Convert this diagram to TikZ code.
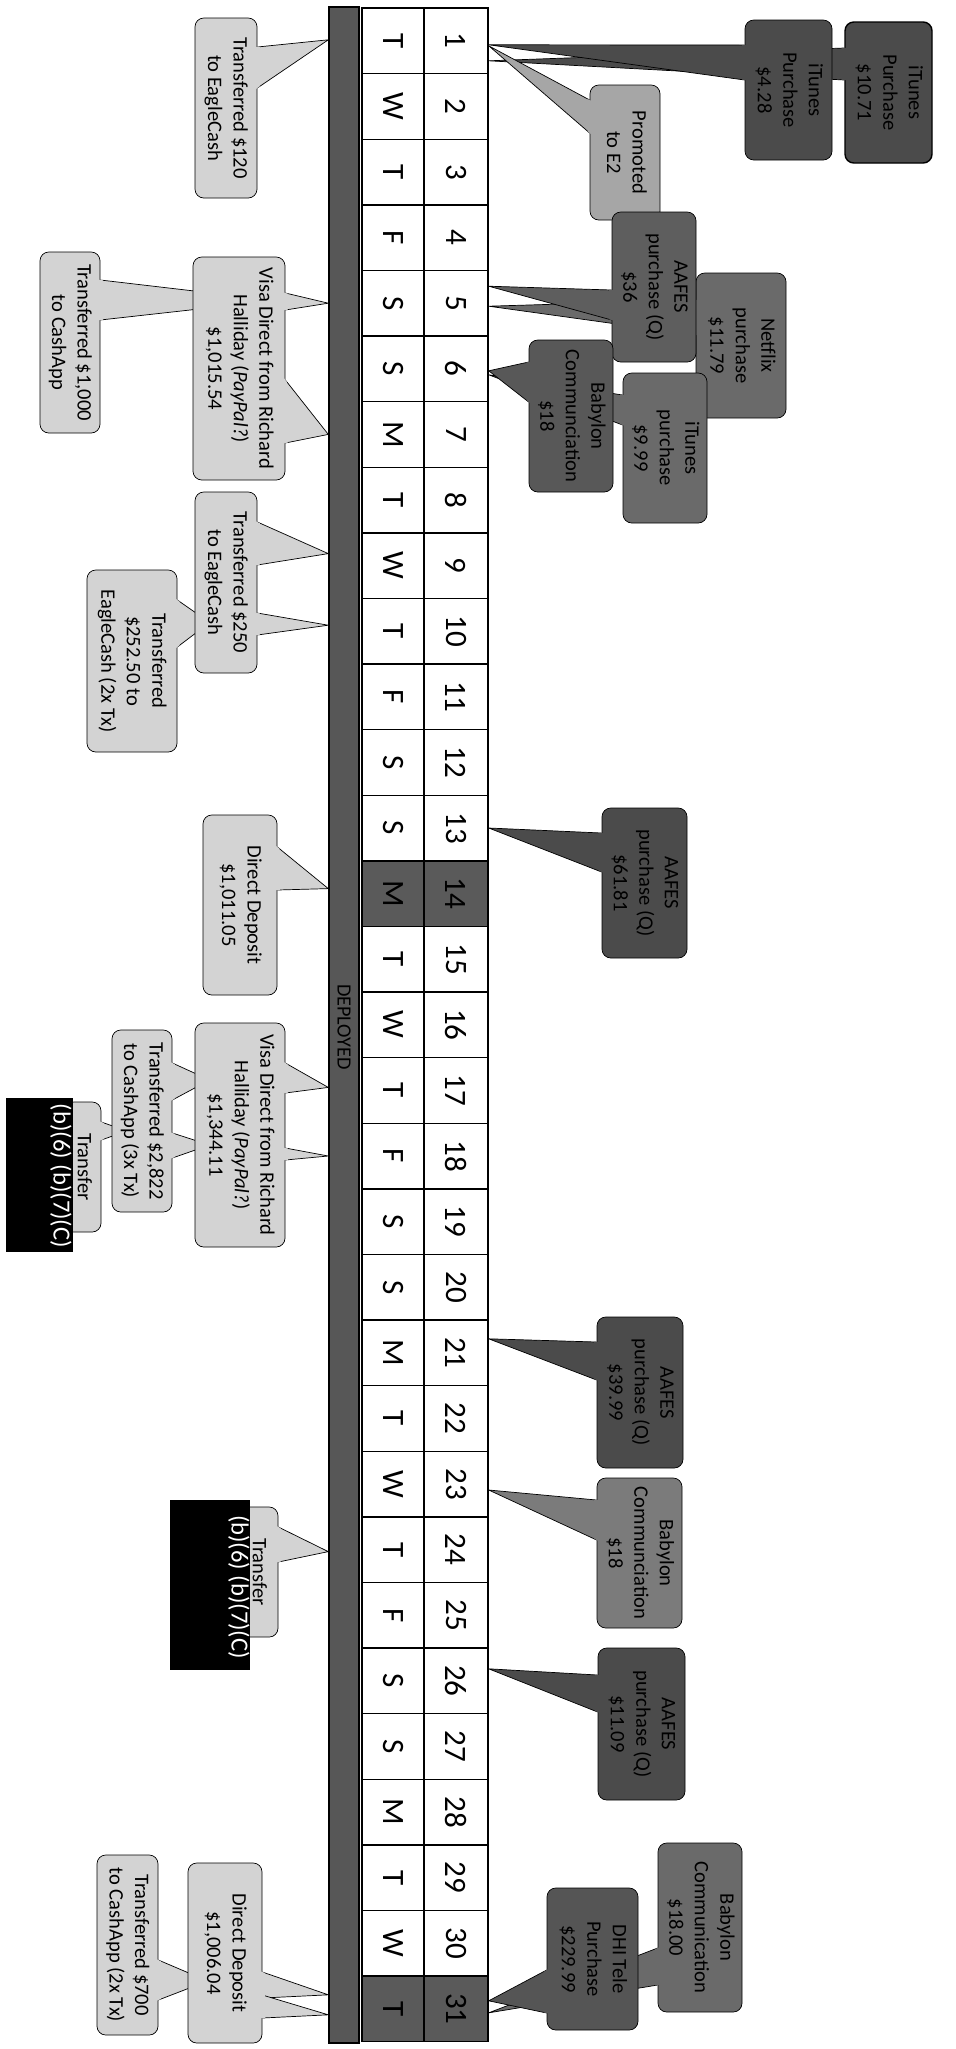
\documentclass[tikz,border=0pt]{standalone}
\usepackage{fontspec}
\setmainfont{Carlito}
\usepackage{graphicx}
\usetikzlibrary{calc,positioning}
\pgfdeclarelayer{background}
\pgfsetlayers{background,main}
\definecolor{callgrey}{HTML}{D3D3D3}
\definecolor{dkgrey}{HTML}{4B4B4B}
\definecolor{promgrey}{HTML}{A6A6A6}
\definecolor{midgrey}{HTML}{5E5E5E}
\definecolor{netgrey}{HTML}{6A6A6A}
\definecolor{babgrey}{HTML}{585858}
\definecolor{lbabgrey}{HTML}{7B7B7B}
\definecolor{dhigrey}{HTML}{555555}
\definecolor{bargrey}{HTML}{575757}
\definecolor{rowgrey}{HTML}{5A5A5A}
\newcommand\callfont{\fontsize{11.7}{14.5}\selectfont}
\newcommand\dayfont{\fontsize{17.7}{20}\selectfont}
\newcommand\redfont{\fontsize{14}{16}\selectfont}
\newcommand\rt[1]{\rotatebox{-90}{\begin{tabular}{@{}c@{}}#1\end{tabular}}}
% tail of a callout: colour, base a, base b, tip
\newcommand\calltail[4]{%
  \coordinate (ta) at (#2);
  \coordinate (tb) at (#3);
  \coordinate (tp) at (#4);
  \begin{pgfonlayer}{background}
    \filldraw[fill=#1] (ta) -- (tp) -- (tb);
  \end{pgfonlayer}
  \fill[#1] ($(ta)!-1.5pt!(tp)$) -- ($(ta)!1.5pt!(tp)$) -- ($(tb)!1.5pt!(tp)$) -- ($(tb)!-1.5pt!(tp)$) -- cycle;
}
\tikzset{
  bx/.style 2 args={minimum width=#1*0.02cm, minimum height=#2*0.02cm},
  lcall/.style={draw, fill=callgrey, rounded corners=5pt, inner sep=0pt, font=\callfont},
  rcall/.style={draw, fill=#1, rounded corners=5pt, inner sep=0pt, font=\callfont},
  daycell/.style={draw, inner sep=0pt, minimum height=65.6*0.02cm, font=\dayfont},
  redact/.style={fill=black, inner sep=0pt}
}
\begin{document}
\begin{tikzpicture}[x=0.02cm, y=-0.02cm, line width=0.8pt]
\useasboundingbox (0,0) rectangle (956,2049);

% deployed bar and days
\node[draw, fill=bargrey, inner sep=0pt, bx={30}{2036}] (bar) at (344,1025) {};
\node[font=\fontsize{11.5}{12}\selectfont] (dep) at (344,1027) {\rotatebox{-90}{DEPLOYED}};
\foreach \d [count=\i] in {T,W,T,F,S,S,M,T,W,T,F,S,S,M,T,W,T,F,S,S,M,T,W,T,F,S,S,M,T,W,T}{
  \pgfmathsetmacro\yc{8+(\i-0.5)*65.6}
  \def\rowfill{white}
  \ifnum\i=14 \def\rowfill{rowgrey}\fi
  \ifnum\i=31 \def\rowfill{rowgrey}\fi
  \node[daycell, fill=\rowfill, minimum width=62*0.02cm] (l\i) at (393,\yc) {\rotatebox{-90}{\d}};
  \node[daycell, fill=\rowfill, minimum width=64*0.02cm] (n\i) at (456,\yc) {\rotatebox{-90}{\i}};
}

% purchases
\node[rcall=dkgrey, bx={87}{141}] (it1071) at (888.5,92.5) {\rt{iTunes\\Purchase\\\$10.71}};
\calltail{dkgrey}{it1071.west |- 0,48}{it1071.west |- 0,80}{$(n1.east)+(0,20)$}
\node[rcall=dkgrey, bx={87}{140}] (it428) at (788.5,90) {\rt{iTunes\\Purchase\\\$4.28}};
\calltail{dkgrey}{it428.west |- 0,45}{it428.west |- 0,80}{$(n1.east)+(0,4)$}
\node[rcall=promgrey, bx={70}{135}] (prom) at (625,152.5) {\rt{Promoted\\to E2}};
\calltail{promgrey}{prom.west |- 0,100}{prom.west |- 0,133}{$(n1.east)+(0,5)$}
\node[rcall=netgrey, bx={90}{145}] (netf) at (741,345.5) {\rt{Netflix\\purchase\\\$11.79}};
\calltail{netgrey}{netf.west |- 0,300}{netf.west |- 0,335}{$(n5.east)+(0,3)$}
\node[rcall=midgrey, bx={84}{150}] (aaf36) at (654,287) {\rt{AAFES\\purchase (Q)\\\$36}};
\calltail{midgrey}{aaf36.west |- 0,290}{aaf36.west |- 0,320}{$(n5.east)+(0,-17)$}
\node[rcall=netgrey, bx={84}{150}] (it999) at (665,448) {\rt{iTunes\\purchase\\\$9.99}};
\calltail{netgrey}{it999.west |- 0,395}{it999.west |- 0,425}{$(n6.east)+(0,6)$}
\node[rcall=babgrey, bx={84}{152}] (bab6) at (571,416) {\rt{Babylon\\Communciation\\\$18}};
\calltail{babgrey}{bab6.west |- 0,362}{bab6.west |- 0,402}{$(n6.east)+(0,2)$}
\node[rcall=dkgrey, bx={85}{150}] (aaf61) at (644.5,883) {\rt{AAFES\\purchase (Q)\\\$61.81}};
\calltail{dkgrey}{aaf61.west |- 0,833}{aaf61.west |- 0,872}{n13.east}
\node[rcall=dkgrey, bx={86}{151}] (aaf39) at (640,1392.5) {\rt{AAFES\\purchase (Q)\\\$39.99}};
\calltail{dkgrey}{aaf39.west |- 0,1342}{aaf39.west |- 0,1380}{$(n21.east)+(0,-14)$}
\node[rcall=lbabgrey, bx={85}{150}] (bab23) at (639.5,1553) {\rt{Babylon\\Communciation\\\$18}};
\calltail{lbabgrey}{bab23.west |- 0,1500}{bab23.west |- 0,1540}{$(n23.east)+(0,6)$}
\node[rcall=dkgrey, bx={87}{152}] (aaf11) at (641.5,1724) {\rt{AAFES\\purchase (Q)\\\$11.09}};
\calltail{dkgrey}{aaf11.west |- 0,1675}{aaf11.west |- 0,1712}{$(n26.east)+(0,-12)$}
\node[rcall=netgrey, bx={84}{169}] (bab30) at (700,1927.5) {\rt{Babylon\\Communication\\\$18.00}};
\calltail{netgrey}{bab30.west |- 0,1948}{bab30.west |- 0,1985}{$(n31.east)+(0,4)$}
\node[rcall=dhigrey, bx={91}{142}] (dhi) at (592.5,1959) {\rt{DHI Tele\\Purchase\\\$229.99}};
\calltail{dhigrey}{dhi.west |- 0,1970}{dhi.west |- 0,2013}{$(n31.east)+(0,-8)$}

% transfers and deposits
\node[lcall, bx={62}{180}] (tx120) at (226,108) {\rt{Transferred \$120\\to EagleCash}};
\calltail{callgrey}{tx120.east |- 0,47}{tx120.east |- 0,88}{$(bar.west |- l1)+(0,-1)$}
\node[lcall, bx={92}{223}] (visa1) at (239,368.5) {\rt{Visa Direct from Richard\\Halliday (\textit{PayPal?})\\\$1,015.54}};
\calltail{callgrey}{visa1.east |- 0,293}{visa1.east |- 0,310}{bar.west |- l5}
\calltail{callgrey}{visa1.east |- 0,380}{visa1.east |- 0,443}{bar.west |- l7}
\node[lcall, bx={60}{181}] (txk) at (70,342.5) {\rt{Transferred \$1,000\\to CashApp}};
\calltail{callgrey}{txk.east |- 0,280}{txk.east |- 0,320}{$(visa1.east)+(-10,-68)$}
\node[lcall, bx={62}{181}] (tx250) at (226,582.5) {\rt{Transferred \$250\\to EagleCash}};
\calltail{callgrey}{tx250.east |- 0,522}{tx250.east |- 0,565}{$(bar.west |- l9)+(0,-12)$}
\calltail{callgrey}{tx250.east |- 0,613}{tx250.east |- 0,635}{$(bar.west |- l10)+(0,-6)$}
\node[lcall, bx={90}{182}] (tx252) at (132,661) {\rt{Transferred\\\$252.50 to\\EagleCash (2x Tx)}};
\calltail{callgrey}{tx252.east |- 0,600}{tx252.east |- 0,647}{$(tx250.west)+(15,40)$}
\node[lcall, bx={74}{180}] (dd1) at (240,905) {\rt{Direct Deposit\\\$1,011.05}};
\calltail{callgrey}{dd1.east |- 0,847}{dd1.east |- 0,890}{$(bar.west |- l14)+(0,-5)$}
\node[lcall, bx={90}{224}] (visa2) at (240,1135) {\rt{Visa Direct from Richard\\Halliday (\textit{PayPal?})\\\$1,344.11}};
\calltail{callgrey}{visa2.east |- 0,1063}{visa2.east |- 0,1093}{$(bar.west |- l17)+(0,-3)$}
\calltail{callgrey}{visa2.east |- 0,1148}{visa2.east |- 0,1160}{bar.west |- l18}
\node[lcall, bx={60}{182}] (tx2822) at (142,1121) {\rt{Transferred \$2,822\\to CashApp (3x Tx)}};
\calltail{callgrey}{tx2822.east |- 0,1063}{tx2822.east |- 0,1100}{$(visa2.west)+(15,-55)$}
\calltail{callgrey}{tx2822.east |- 0,1133}{tx2822.east |- 0,1158}{$(visa2.west)+(15,10)$}
\node[lcall, bx={36}{130}] (trf1) at (83,1167) {\rt{Transfer}};
\calltail{callgrey}{trf1.east |- 0,1122}{trf1.east |- 0,1140}{$(tx2822.west)+(15,10)$}
\node[lcall, bx={40}{130}] (trf2) at (258,1572) {\rt{Transfer}};
\calltail{callgrey}{trf2.east |- 0,1527}{trf2.east |- 0,1562}{$(bar.west |- l24)+(0,2)$}
\node[lcall, bx={74}{180}] (dd2) at (225,1953) {\rt{Direct Deposit\\\$1,006.04}};
\calltail{callgrey}{dd2.east |- 0,1972}{dd2.east |- 0,1998}{$(bar.west |- l31)+(0,-14)$}
\calltail{callgrey}{dd2.east |- 0,1995}{dd2.east |- 0,2018}{$(bar.west |- l31)+(0,6)$}
\node[lcall, bx={61}{180}] (tx700) at (127.5,1945) {\rt{Transferred \$700\\to CashApp (2x Tx)}};
\calltail{callgrey}{tx700.east |- 0,1960}{tx700.east |- 0,2000}{$(dd2.west)+(20,28)$}

% redactions
\node[redact, bx={67}{154}] (red1) at (39.5,1175) {};
\node[text=white, font=\redfont, inner sep=0pt] (red1t) at (61,1176) {\rotatebox{-90}{(b)(6) (b)(7)(C)}};
\node[redact, bx={80}{170}] (red2) at (210,1585) {};
\node[text=white, font=\redfont, inner sep=0pt] (red2t) at (239,1587) {\rotatebox{-90}{(b)(6) (b)(7)(C)}};
\end{tikzpicture}
\end{document}
